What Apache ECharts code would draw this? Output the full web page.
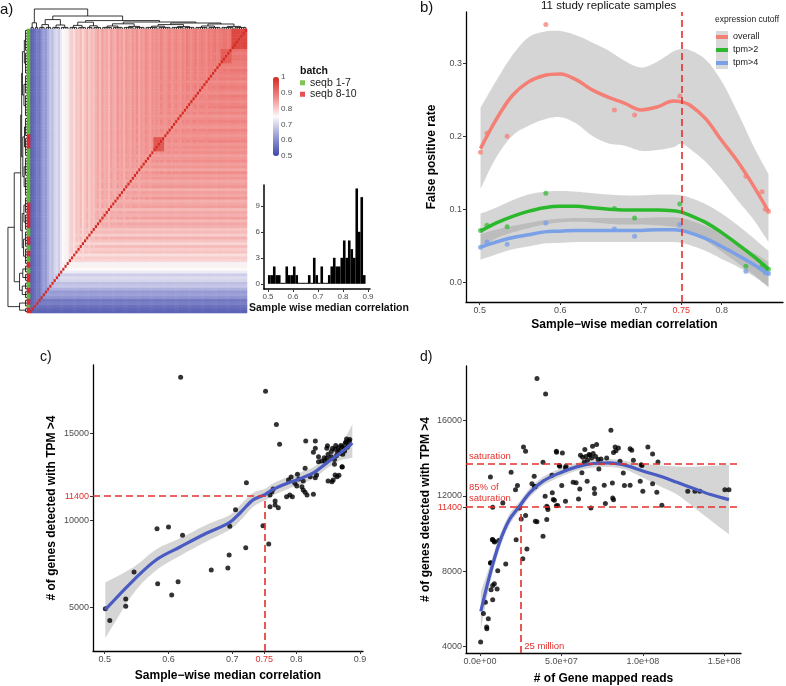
<!DOCTYPE html>
<html>
<head>
<meta charset="utf-8">
<title>Replicate sample correlation</title>
<script src="https://cdn.jsdelivr.net/npm/echarts@6/dist/echarts.min.js"></script>
<style>
html, body { margin: 0; padding: 0; background: #fff; }
#chart { width: 786px; height: 686px; }
</style>
</head>
<body>
<div id="chart"></div>
<script>
// ---------- a) sample correlation heatmap ----------
// per sample median correlation, in dendrogram order (left column = bottom row)
var sampleCorr = [
    0.54, 0.55, 0.56, 0.58, 0.57,
    0.61, 0.63, 0.62, 0.65,
    0.68, 0.67, 0.70, 0.71, 0.69,
    0.73, 0.75, 0.76, 0.74,
    0.79, 0.80, 0.78, 0.81, 0.80, 0.82, 0.79, 0.81, 0.83, 0.80, 0.82, 0.81, 0.83,
    0.84, 0.82, 0.85, 0.83, 0.84, 0.82, 0.85, 0.84, 0.83, 0.86, 0.84, 0.85, 0.83,
    0.86, 0.85, 0.84, 0.86, 0.85, 0.87, 0.84, 0.86, 0.85, 0.87, 0.86, 0.85, 0.87,
    0.86, 0.87, 0.86, 0.88, 0.87,
    0.86, 0.87, 0.88, 0.86, 0.87, 0.88, 0.87, 0.86, 0.88, 0.87, 0.89, 0.88, 0.87,
    0.88, 0.89, 0.87, 0.88, 0.89, 0.88, 0.87, 0.89, 0.88, 0.89, 0.90, 0.88, 0.89,
    0.89, 0.90, 0.90, 0.89, 0.90, 0.91, 0.90, 0.91, 0.92, 0.91, 0.92, 0.92
];
// tight blocks on the diagonal: [first, last, correlation]
var corrBlocks = [[57, 61, 0.94], [88, 92, 0.93], [93, 99, 0.96]];
// batch runs from the bottom row up: [batch, rows], 0 = seqb 1-7, 1 = seqb 8-10
var batchRuns = [[1, 2], [0, 1], [1, 2], [0, 2], [1, 2], [0, 2], [1, 3], [0, 2], [1, 2],
    [0, 2], [1, 2], [0, 2], [1, 3], [0, 3], [1, 9], [0, 19], [1, 5], [0, 37]];
// dendrograms: [height, left, right], a number is a group of that many leaves
var colTree = [10, [3.1, 2, 2],
    [6.5, [4.7, [2.2, 3, 3], [2.0, 4, 4]],
        [4.2, [3.4, [1.8, 4, 4], [1.6, 3, 4]],
            [3.5, [2.6, [1.5, 5, 5], [1.3, 5, 5]],
                [3.0, [2.2, [1.4, 6, 6], [1.2, 6, 5]], [2.5, [1.5, 6, 6], [1.3, 6, 6]]]]]]];
var rowTree = [10, [3.9, 2, 3],
    [6.7, [3.9, [2.5, 3, 3], [2.2, 3, 3]],
        [3.3, [2.5, [1.8, 6, 6], [1.6, 6, 6]],
            [2.8, [2.2, [1.5, 7, 7], [1.3, 7, 7]], [2.4, [1.6, 8, 7], [1.4, 8, 8]]]]]];
var corrTicks = [0.5, 0.6, 0.7, 0.8, 0.9, 1];

// histogram of sample wise median correlation
var histMids = [0.505, 0.515, 0.525, 0.535, 0.545, 0.555, 0.565, 0.575, 0.585, 0.595,
    0.605, 0.615, 0.625, 0.635, 0.645, 0.655, 0.665, 0.675, 0.685, 0.695,
    0.705, 0.715, 0.725, 0.735, 0.745, 0.755, 0.765, 0.775, 0.785, 0.795,
    0.805, 0.815, 0.825, 0.835, 0.845, 0.855, 0.865, 0.875, 0.885];
var histCounts = [1, 1, 2, 1, 1, 0, 0, 2, 1, 1,
    2, 1, 0, 0, 0, 0, 1, 0, 3, 1,
    0, 2, 0, 0, 1, 2, 3, 2, 2, 3,
    5, 3, 5, 4, 3, 11, 6, 10, 1];
var histXTicks = [0.5, 0.6, 0.7, 0.8, 0.9];
var histYTicks = [0, 3, 6, 9];

// ---------- b) false positive rate ----------
var bCorr = [0.501, 0.509, 0.534, 0.582, 0.667, 0.692, 0.748, 0.830, 0.850, 0.854, 0.858];
var bOverall = [0.178, 0.204, 0.200, 0.353, 0.236, 0.229, 0.255, 0.145, 0.124, 0.100, 0.097];
var bTpm2 = [0.071, 0.078, 0.076, 0.122, 0.101, 0.088, 0.107, 0.022, 0.022, 0.018, 0.018];
var bTpm4 = [0.048, 0.055, 0.052, 0.081, 0.073, 0.063, 0.079, 0.015, 0.018, 0.013, 0.012];
var bFitX = [0.501, 0.52, 0.54, 0.56, 0.58, 0.60, 0.62, 0.64, 0.66, 0.68,
    0.70, 0.72, 0.74, 0.75, 0.76, 0.78, 0.80, 0.82, 0.84, 0.858];
var bOverallFit = [0.183, 0.222, 0.255, 0.274, 0.283, 0.285, 0.277, 0.263, 0.253, 0.245,
    0.236, 0.240, 0.248, 0.247, 0.243, 0.224, 0.194, 0.165, 0.131, 0.097];
var bOverallHi = [0.239, 0.275, 0.310, 0.335, 0.343, 0.344, 0.338, 0.328, 0.317, 0.303,
    0.294, 0.302, 0.316, 0.319, 0.318, 0.305, 0.275, 0.232, 0.185, 0.148];
var bOverallLo = [0.128, 0.170, 0.200, 0.214, 0.223, 0.226, 0.217, 0.200, 0.190, 0.187,
    0.180, 0.181, 0.185, 0.190, 0.183, 0.165, 0.140, 0.112, 0.085, 0.055];
var bTpm2Fit = [0.070, 0.081, 0.090, 0.097, 0.102, 0.104, 0.104, 0.102, 0.100, 0.099,
    0.099, 0.099, 0.098, 0.096, 0.092, 0.082, 0.068, 0.052, 0.035, 0.018];
var bTpm2Hi = [0.094, 0.102, 0.112, 0.120, 0.124, 0.125, 0.124, 0.122, 0.120, 0.119,
    0.119, 0.120, 0.120, 0.119, 0.116, 0.107, 0.094, 0.078, 0.060, 0.043];
var bTpm2Lo = [0.046, 0.060, 0.068, 0.074, 0.079, 0.082, 0.083, 0.082, 0.080, 0.079,
    0.079, 0.078, 0.076, 0.073, 0.068, 0.057, 0.042, 0.026, 0.010, -0.007];
var bTpm4Fit = [0.048, 0.055, 0.061, 0.065, 0.069, 0.070, 0.071, 0.071, 0.071, 0.071,
    0.071, 0.072, 0.072, 0.071, 0.068, 0.060, 0.049, 0.037, 0.024, 0.011];
var bTpm4Hi = [0.066, 0.072, 0.077, 0.081, 0.085, 0.087, 0.088, 0.088, 0.088, 0.088,
    0.088, 0.089, 0.089, 0.088, 0.085, 0.077, 0.066, 0.053, 0.040, 0.028];
var bTpm4Lo = [0.031, 0.038, 0.045, 0.049, 0.053, 0.054, 0.055, 0.055, 0.055, 0.055,
    0.055, 0.055, 0.055, 0.054, 0.051, 0.043, 0.032, 0.021, 0.008, -0.006];
var bXTicks = [0.5, 0.6, 0.7, 0.75, 0.8];
var bYTicks = [0, 0.1, 0.2, 0.3];
var bCut = 0.75;

// ---------- c) genes detected vs median correlation ----------
var cCorr = [0.501, 0.508, 0.533, 0.533, 0.546, 0.582, 0.583, 0.600, 0.605, 0.615, 0.619, 0.622,
    0.667, 0.693, 0.695, 0.696, 0.705, 0.721, 0.722, 0.748, 0.752, 0.757, 0.769, 0.774,
    0.815, 0.830, 0.879, 0.883, 0.877, 0.882, 0.872, 0.866, 0.861, 0.857,
    0.849, 0.848, 0.830, 0.827, 0.876, 0.869, 0.863, 0.855, 0.848, 0.844,
    0.835, 0.835, 0.840, 0.860, 0.872, 0.814, 0.861, 0.864, 0.802, 0.832,
    0.830, 0.822, 0.792, 0.804, 0.788, 0.811, 0.850, 0.856, 0.858, 0.798,
    0.801, 0.809, 0.811, 0.814, 0.817, 0.827, 0.785, 0.790, 0.794, 0.764,
    0.762, 0.759, 0.767, 0.759, 0.767, 0.772,
    0.867, 0.872, 0.870, 0.875, 0.878, 0.868, 0.873, 0.865, 0.855, 0.850, 0.845, 0.860, 0.880, 0.884, 0.862];
var cGenes = [4940, 4270, 5500, 5080, 7050, 9530, 6380, 9630, 5730, 6490, 18210, 9150,
    7160, 7280, 8020, 9670, 10620, 8440, 12170, 9700, 17410, 8650, 15500, 14370,
    14558, 14558, 14673, 14558, 14425, 14329, 14234, 14176, 14080, 14138,
    14291, 14138, 14138, 13909, 13985, 13851, 13718, 13660, 13565, 13603,
    13660, 13374, 13412, 13221, 13087, 12991, 12609, 12514, 12647, 12609,
    12456, 12514, 12495, 12380, 12323, 12265, 12265, 12227, 12323, 12131,
    11979, 11940, 11749, 11615, 11463, 11501, 11367, 11463, 11367, 11807,
    11654, 11463, 11119, 10794, 10889, 10736,
    12590, 13070, 14300, 14150, 14500, 14000, 13800, 13900, 13950, 13800, 13400, 13500, 14200, 14650, 14300];
var cFitX = [0.501, 0.545, 0.581, 0.618, 0.660, 0.696, 0.712, 0.733, 0.751, 0.765,
    0.790, 0.809, 0.827, 0.848, 0.869, 0.888];
var cFitY = [4885, 6570, 7750, 8480, 9280, 9895, 10430, 11195, 11480, 11807,
    12190, 12440, 12725, 13300, 13870, 14445];
var cFitLo = [3260, 5820, 7150, 7980, 8800, 9475, 9980, 10795, 11150, 11460,
    11850, 12100, 12400, 12980, 13450, 13585];
var cFitHi = [6450, 7320, 8350, 8980, 9760, 10315, 10880, 11595, 11810, 12150,
    12540, 12790, 13060, 13630, 14300, 15500];
var cXTicks = [0.5, 0.6, 0.7, 0.75, 0.8, 0.9];
var cYTicks = [5000, 10000, 11400, 15000];
var cCutCorr = 0.75;
var cCutGenes = 11400;

// ---------- d) genes detected vs mapped reads ----------
var dReadsM = [0.4, 2.1, 3.3, 4.1, 4.2, 5.1, 6.8, 7.8, 7.8, 8.8,
    10.5, 10.9, 6.4, 7.8, 9.0, 11.5, 7.8, 6.4, 15.8, 14.0,
    19.1, 21.8, 23.0, 22.2, 24.3, 25.3, 26.3, 26.7, 28.0, 28.0,
    28.8, 31.9, 33.3, 34.0, 35.0, 33.5, 38.7, 35.0, 40.3, 38.7,
    40.0, 41.0, 41.5, 41.0, 44.2, 44.4, 45.7, 46.9, 46.9, 49.0,
    50.2, 50.6, 52.5, 52.5, 57.2, 60.5, 61.3, 61.7, 64.4, 65.8,
    67.5, 68.5, 69.1, 68.1, 70.2, 70.4, 71.6, 72.6, 73.0, 74.3,
    76.3, 77.0, 77.8, 80.4, 81.3, 81.5, 82.0, 82.0, 83.0, 83.5,
    85.0, 86.0, 88.0, 88.7, 92.2, 92.2, 93.2, 94.2, 98.4, 99.0,
    99.5, 100.0, 103.1, 106.0, 106.0, 108.6, 109.3, 111.7, 127.6, 132.0,
    135.0, 150.4, 152.9,
    6.6, 7.6, 8.6, 33.9, 41.7, 45.0, 47.7, 47.0, 48.7, 52.8,
    59.0, 62.6, 63.0, 65.0, 66.0, 67.0, 69.5, 71.0, 64.0];
var dGenes = [4230, 5740, 6340, 5030, 4940, 5470, 7010, 7240, 6480, 7320,
    7050, 8020, 8430, 9670, 9550, 9620, 11390, 13000, 8380, 11620,
    13255, 12330, 12550, 9670, 11360, 10770, 8650, 14600, 14370, 10950,
    9180, 12650, 13040, 10650, 10620, 12500, 13790, 18240, 17420, 9850,
    11980, 11450, 11380, 10740, 13100, 12160, 11770, 14370, 11480, 13570,
    12550, 14280, 13490, 11710, 12720, 11840, 12370, 14160, 14460, 12780,
    14160, 14020, 14640, 11360, 12390, 12120, 14730, 13930, 13430, 13960,
    12560, 11590, 14020, 15490, 12690, 11890, 11800, 14300, 14600, 14400,
    14550, 13840, 13220, 12550, 12560, 14500, 14420, 13890, 12780, 13650,
    13620, 12240, 14600, 14230, 12650, 12190, 13800, 11500, 12240, 12240,
    12240, 12320, 12320,
    8441, 9681, 9592, 12479, 11274, 11806, 11487, 14320, 13612, 13577,
    12692, 13223, 14050, 14100, 13900, 14200, 14250, 14100, 13800];
var dFitReadsM = [0.5, 5.8, 11.9, 18.1, 24.3, 30.5, 38.7, 49.0, 59.3, 69.5,
    79.8, 90.0, 100.4, 110.7, 121.0, 131.3, 141.6, 152.9];
var dFitY = [5860, 7720, 9500, 10740, 11450, 12160, 12780, 13220, 13540, 13720,
    13750, 13610, 13310, 13040, 12720, 12390, 12070, 11800];
var dFitLo = [4900, 7200, 9150, 10450, 11200, 11920, 12550, 13000, 13330, 13500,
    13530, 13370, 12950, 12500, 12070, 11400, 10700, 9950];
var dFitHi = [6900, 8250, 9850, 11030, 11700, 12400, 13010, 13440, 13750, 13940,
    13970, 13850, 13700, 13620, 13560, 13550, 13600, 13650];
var dXTicks = [0, 5e7, 1e8, 1.5e8];
var dYTicks = [4000, 8000, 11400, 12000, 16000];
var dSaturation = 13700;
var dCutGenes = 11400;
var dCutReads = 2.5e7;

// ---------- styling ----------
var FONT = 'Liberation Sans, Arial, sans-serif';
var RED = '#e3302b';
var GREEN_B = '#5cb82c';
var RED_B = '#e0262a';
var FIT = '#4a5cc2';
var BAND = 'rgba(150,150,150,0.4)';
var C_OVERALL = '#f47f75';
var C_TPM2 = '#2cb82c';
var C_TPM4 = '#7aa0e8';
var DASH = { color: RED, type: [7, 4], width: 1.6 };

function zip(xs, ys, scale) {
    var out = [];
    for (var i = 0; i < xs.length; i++) out.push([xs[i] * (scale || 1), ys[i]]);
    return out;
}

function sci(v) {
    if (v === 0) return '0.0e+00';
    var e = Math.floor(Math.log10(v) + 1e-9);
    return (v / Math.pow(10, e)).toFixed(1) + 'e+' + (e < 10 ? '0' : '') + e;
}

// heatmap cells
var N = sampleCorr.length;
var heatData = [];
for (var i = 0; i < N; i++) {
    for (var j = 0; j < N; j++) {
        var v = i === j ? 1 : Math.min(sampleCorr[i], sampleCorr[j]);
        corrBlocks.forEach(function (b) {
            if (i !== j && i >= b[0] && i <= b[1] && j >= b[0] && j <= b[1]) v = Math.max(v, b[2]);
        });
        heatData.push([i, j, v]);
    }
}
var batch = [];
batchRuns.forEach(function (run) {
    for (var k = 0; k < run[1]; k++) batch.push(run[0]);
});
var batchData = batch.map(function (b, r) { return [0, r, b]; });
var idx = [];
for (var k = 0; k < N; k++) idx.push(k);

// dendrogram segments [pos1, h1, pos2, h2]
function layoutTree(node, start, segs) {
    var leafH = 0.8;
    if (typeof node === 'number') {
        for (var k = 0; k < node; k++) segs.push([start + k + 0.5, 0, start + k + 0.5, leafH]);
        if (node > 1) segs.push([start + 0.5, leafH, start + node - 0.5, leafH]);
        return { pos: start + node / 2, h: leafH, end: start + node };
    }
    var a = layoutTree(node[1], start, segs);
    var b = layoutTree(node[2], a.end, segs);
    segs.push([a.pos, a.h, a.pos, node[0]]);
    segs.push([b.pos, b.h, b.pos, node[0]]);
    segs.push([a.pos, node[0], b.pos, node[0]]);
    return { pos: (a.pos + b.pos) / 2, h: node[0], end: b.end };
}
var colSegs = [], rowSegs = [];
layoutTree(colTree, 0, colSegs);
layoutTree(rowTree, 0, rowSegs);

function dendroSeries(segs, g, sideways) {
    return {
        type: 'custom', xAxisIndex: g, yAxisIndex: g, silent: true,
        data: segs,
        encode: sideways ? { x: [1, 3], y: [0, 2] } : { x: [0, 2], y: [1, 3] },
        renderItem: function (params, api) {
            var a = sideways ? [api.value(1), api.value(0)] : [api.value(0), api.value(1)];
            var b = sideways ? [api.value(3), api.value(2)] : [api.value(2), api.value(3)];
            var p = api.coord(a), q = api.coord(b);
            return {
                type: 'line',
                shape: { x1: p[0], y1: p[1], x2: q[0], y2: q[1] },
                style: { stroke: '#000', lineWidth: 0.8 }
            };
        }
    };
}

// smooth pixel path through projected points (Catmull-Rom), for drawing only
function curveThrough(pts, steps) {
    var out = [];
    for (var i = 0; i < pts.length - 1; i++) {
        var p0 = pts[Math.max(i - 1, 0)], p1 = pts[i], p2 = pts[i + 1], p3 = pts[Math.min(i + 2, pts.length - 1)];
        for (var s = 0; s < steps; s++) {
            var t = s / steps, t2 = t * t, t3 = t2 * t;
            var pt = [];
            for (var d = 0; d < 2; d++) {
                pt.push(0.5 * (2 * p1[d] + (p2[d] - p0[d]) * t +
                    (2 * p0[d] - 5 * p1[d] + 4 * p2[d] - p3[d]) * t2 +
                    (3 * p1[d] - p0[d] - 3 * p2[d] + p3[d]) * t3));
            }
            out.push(pt);
        }
    }
    out.push(pts[pts.length - 1]);
    return out;
}

function bandSeries(xs, lo, hi, g, scale) {
    scale = scale || 1;
    return {
        type: 'custom', xAxisIndex: g, yAxisIndex: g, silent: true, clip: true, z: 1,
        data: [[xs[0] * scale, lo[0]]],
        renderItem: function (params, api) {
            var up = [], down = [];
            for (var k = 0; k < xs.length; k++) {
                up.push(api.coord([xs[k] * scale, hi[k]]));
                down.push(api.coord([xs[k] * scale, lo[k]]));
            }
            var pts = curveThrough(up, 8).concat(curveThrough(down, 8).reverse());
            return { type: 'polygon', shape: { points: pts }, style: { fill: BAND } };
        }
    };
}

function hiddenAxis(g, min, max, extra) {
    var ax = { type: 'value', gridIndex: g, min: min, max: max, show: false };
    for (var key in extra) ax[key] = extra[key];
    return ax;
}

function valAxis(g, min, max, ticks, fmt, extra) {
    var ax = {
        type: 'value', gridIndex: g, min: min, max: max,
        axisLine: { show: true, onZero: false, lineStyle: { color: '#000', width: 1.3 } },
        axisTick: { show: true, length: 3, customValues: ticks, lineStyle: { color: '#333' } },
        axisLabel: {
            customValues: ticks, fontSize: 9, color: '#4d4d4d', margin: 4, formatter: fmt,
            rich: { r: { color: RED, fontSize: 9 } }
        },
        splitLine: { show: false },
        nameTextStyle: { fontWeight: 'bold', fontSize: 12, color: '#000' }
    };
    for (var key in extra) ax[key] = extra[key];
    return ax;
}

function redAt(cut, fmt) {
    return function (v) {
        var s = fmt ? fmt(v) : String(v);
        return v === cut ? '{r|' + s + '}' : s;
    };
}

function grid(l, t, w, h) {
    return { left: l, top: t, width: w, height: h, containLabel: false, outerBoundsMode: 'none' };
}

var chart = echarts.init(document.getElementById('chart'));
var option = {
    animation: false,
    textStyle: { fontFamily: FONT },
    title: [
        { text: 'a)', left: 0, top: 2, padding: 0, textStyle: { fontSize: 15, fontWeight: 'normal', color: '#111' } },
        { text: 'batch', left: 300, top: 66, padding: 0, textStyle: { fontSize: 10.5, fontWeight: 'bold', color: '#111' } },
        { text: 'Sample wise median correlation', left: 249, top: 303, padding: 0,
          textStyle: { fontSize: 10.5, fontWeight: 'bold', color: '#111' } },
        { text: 'b)', left: 420, top: 0, padding: 0, textStyle: { fontSize: 15, fontWeight: 'normal', color: '#111' } },
        { text: '11 study replicate samples', left: 541, top: 0, padding: 0,
          textStyle: { fontSize: 11.5, fontWeight: 'normal', color: '#111' } },
        { text: 'expression cutoff', left: 715, top: 15, padding: 0,
          textStyle: { fontSize: 8.5, fontWeight: 'normal', color: '#222' } },
        { text: 'c)', left: 40, top: 350, padding: 0, textStyle: { fontSize: 14, fontWeight: 'normal', color: '#111' } },
        { text: 'd)', left: 420, top: 350, padding: 0, textStyle: { fontSize: 14, fontWeight: 'normal', color: '#111' } }
    ],
    legend: [
        {
            data: ['seqb 1-7', 'seqb 8-10'], orient: 'vertical', left: 300, top: 77, padding: 0,
            icon: 'rect', itemWidth: 5, itemHeight: 5, itemGap: 0, selectedMode: false,
            textStyle: { fontSize: 10.5, color: '#222', lineHeight: 11.5 }
        },
        {
            data: ['overall', 'tpm>2', 'tpm>4'], orient: 'vertical', left: 716, top: 30.5, padding: 0,
            icon: 'rect', itemWidth: 12, itemHeight: 4, itemGap: 0, selectedMode: false,
            textStyle: { fontSize: 9, color: '#222', lineHeight: 13 }
        }
    ],
    graphic: [
        { type: 'rect', left: 716, top: 31, shape: { width: 12, height: 38 }, style: { fill: '#d9d9d9' }, z: 0, silent: true }
    ],
    grid: [
        grid(30, 29, 217, 284),   // 0 heatmap
        grid(27, 29, 3, 284),     // 1 batch bar
        grid(7, 29, 20, 284),     // 2 row dendrogram
        grid(30, 8, 217, 21),     // 3 column dendrogram
        grid(273, 77, 6, 79),     // 4 colour bar scale
        grid(264, 185, 106, 104), // 5 histogram
        grid(466, 12, 317, 290),  // 6 panel b
        grid(93, 365, 270, 286),  // 7 panel c
        grid(466, 366, 275, 287)  // 8 panel d
    ],
    xAxis: [
        { type: 'category', gridIndex: 0, data: idx, show: false },
        { type: 'category', gridIndex: 1, data: ['batch'], show: false },
        hiddenAxis(2, 0, 10.5, { inverse: true }),
        hiddenAxis(3, 0, N),
        hiddenAxis(4, 0, 1),
        valAxis(5, 0.484, 0.908, histXTicks, null, {
            axisLine: { show: true, onZero: false, lineStyle: { color: '#000', width: 1.5 } },
            axisLabel: { customValues: histXTicks, fontSize: 8, color: '#4d4d4d', margin: 4 }
        }),
        valAxis(6, 0.483, 0.876, bXTicks, redAt(bCut), {
            name: 'Sample\u2212wise median correlation', nameLocation: 'middle', nameGap: 17
        }),
        valAxis(7, 0.4817, 0.9047, cXTicks, redAt(cCutCorr), {
            name: 'Sample\u2212wise median correlation', nameLocation: 'middle', nameGap: 19
        }),
        valAxis(8, -8.6e6, 1.603e8, dXTicks, sci, {
            name: '# of Gene mapped reads', nameLocation: 'middle', nameGap: 20
        })
    ],
    yAxis: [
        { type: 'category', gridIndex: 0, data: idx, show: false },
        { type: 'category', gridIndex: 1, data: idx, show: false },
        hiddenAxis(2, 0, N),
        hiddenAxis(3, 0, 10.5),
        {
            type: 'value', gridIndex: 4, min: 0.5, max: 1, position: 'right',
            axisLine: { show: false }, splitLine: { show: false },
            axisTick: { show: true, inside: true, length: 2, customValues: corrTicks, lineStyle: { color: '#fff' } },
            axisLabel: { customValues: corrTicks, fontSize: 8, color: '#4d4d4d', margin: 2 }
        },
        valAxis(5, -0.6, 11.4, histYTicks, null, {
            axisLine: { show: true, onZero: false, lineStyle: { color: '#000', width: 1.5 } },
            axisLabel: { customValues: histYTicks, fontSize: 8, color: '#4d4d4d', margin: 4 }
        }),
        valAxis(6, -0.027, 0.37, bYTicks, function (v) { return v.toFixed(1); }, {
            name: 'False positive rate', nameLocation: 'middle', nameGap: 28
        }),
        valAxis(7, 2517, 18916, cYTicks, redAt(cCutGenes), {
            name: '# of genes detected with TPM >4', nameLocation: 'middle', nameGap: 35
        }),
        valAxis(8, 3644, 18906, dYTicks, redAt(dCutGenes), {
            name: '# of genes detected with TPM >4', nameLocation: 'middle', nameGap: 34
        })
    ],
    visualMap: [
        {
            type: 'continuous', seriesIndex: 0, min: 0.5, max: 1, dimension: 2,
            left: 273, top: 77, padding: 0, itemWidth: 6, itemHeight: 79,
            calculable: false, hoverLink: false,
            inRange: { color: ['#3f47a6', '#9a9dd6', '#fdfafa', '#ef8784', '#d42a22'] }
        },
        {
            type: 'piecewise', seriesIndex: 1, dimension: 2, show: false,
            pieces: [{ value: 0, color: GREEN_B }, { value: 1, color: RED_B }]
        }
    ],
    series: [
        { type: 'heatmap', xAxisIndex: 0, yAxisIndex: 0, data: heatData, progressive: 0, silent: true },
        { type: 'heatmap', xAxisIndex: 1, yAxisIndex: 1, data: batchData, progressive: 0, silent: true },
        { type: 'scatter', name: 'seqb 1-7', xAxisIndex: 1, yAxisIndex: 1, data: [], itemStyle: { color: GREEN_B } },
        { type: 'scatter', name: 'seqb 8-10', xAxisIndex: 1, yAxisIndex: 1, data: [], itemStyle: { color: RED_B } },
        dendroSeries(colSegs, 3, false),
        dendroSeries(rowSegs, 2, true),
        {
            type: 'bar', xAxisIndex: 5, yAxisIndex: 5, data: zip(histMids, histCounts),
            barWidth: 2.6, barMinHeight: 1, itemStyle: { color: '#000' }, silent: true
        },

        // b)
        bandSeries(bFitX, bOverallLo, bOverallHi, 6),
        bandSeries(bFitX, bTpm2Lo, bTpm2Hi, 6),
        bandSeries(bFitX, bTpm4Lo, bTpm4Hi, 6),
        {
            type: 'scatter', xAxisIndex: 6, yAxisIndex: 6, data: zip(bCorr, bOverall), symbolSize: 5, z: 2,
            itemStyle: { color: C_OVERALL, opacity: 0.75 }, silent: true,
            markLine: { silent: true, symbol: 'none', label: { show: false }, lineStyle: DASH, data: [{ xAxis: bCut }] }
        },
        { type: 'scatter', xAxisIndex: 6, yAxisIndex: 6, data: zip(bCorr, bTpm2), symbolSize: 5, z: 2,
          itemStyle: { color: C_TPM2, opacity: 0.7 }, silent: true },
        { type: 'scatter', xAxisIndex: 6, yAxisIndex: 6, data: zip(bCorr, bTpm4), symbolSize: 5, z: 2,
          itemStyle: { color: C_TPM4, opacity: 0.8 }, silent: true },
        { type: 'line', name: 'overall', xAxisIndex: 6, yAxisIndex: 6, data: zip(bFitX, bOverallFit), smooth: 0.35,
          showSymbol: false, z: 3, color: C_OVERALL, lineStyle: { width: 3.5, color: C_OVERALL }, silent: true },
        { type: 'line', name: 'tpm>2', xAxisIndex: 6, yAxisIndex: 6, data: zip(bFitX, bTpm2Fit), smooth: 0.35,
          showSymbol: false, z: 3, color: C_TPM2, lineStyle: { width: 3.5, color: C_TPM2 }, silent: true },
        { type: 'line', name: 'tpm>4', xAxisIndex: 6, yAxisIndex: 6, data: zip(bFitX, bTpm4Fit), smooth: 0.35,
          showSymbol: false, z: 3, color: C_TPM4, lineStyle: { width: 3.5, color: C_TPM4 }, silent: true },

        // c)
        { type: 'scatter', xAxisIndex: 7, yAxisIndex: 7, data: zip(cCorr, cGenes), symbolSize: 5, z: 2,
          itemStyle: { color: '#000' }, silent: true },
        bandSeries(cFitX, cFitLo, cFitHi, 7),
        {
            type: 'line', xAxisIndex: 7, yAxisIndex: 7, data: zip(cFitX, cFitY), smooth: 0.35, showSymbol: false,
            z: 3, lineStyle: { width: 3.2, color: FIT }, silent: true,
            markLine: {
                silent: true, symbol: 'none', label: { show: false }, lineStyle: DASH,
                data: [
                    [{ coord: [0.4817, cCutGenes] }, { coord: [cCutCorr, cCutGenes] }],
                    [{ coord: [cCutCorr, 2517] }, { coord: [cCutCorr, cCutGenes] }]
                ]
            }
        },

        // d)
        { type: 'scatter', xAxisIndex: 8, yAxisIndex: 8, data: zip(dReadsM, dGenes, 1e6), symbolSize: 5, z: 2,
          itemStyle: { color: '#000' }, silent: true },
        bandSeries(dFitReadsM, dFitLo, dFitHi, 8, 1e6),
        {
            type: 'line', xAxisIndex: 8, yAxisIndex: 8, data: zip(dFitReadsM, dFitY, 1e6), smooth: 0.35, showSymbol: false,
            z: 3, lineStyle: { width: 3.2, color: FIT }, silent: true,
            markLine: {
                silent: true, symbol: 'none', label: { show: false }, lineStyle: DASH,
                data: [
                    { yAxis: dSaturation, label: { show: true, position: 'insideStartTop', formatter: 'saturation',
                      color: RED, fontSize: 9.5, distance: 3 } },
                    { yAxis: dCutGenes, label: { show: true, position: 'insideStartTop', formatter: '85% of\nsaturation',
                      color: RED, fontSize: 9.5, lineHeight: 11, distance: 3 } },
                    [{ coord: [dCutReads, 3644] }, { coord: [dCutReads, dCutGenes] }]
                ]
            },
            markPoint: {
                silent: true,
                data: [{
                    coord: [dCutReads, 4000], symbol: 'circle', symbolSize: 1, itemStyle: { color: 'rgba(0,0,0,0)' },
                    label: { show: true, position: 'right', formatter: '25 million', color: RED, fontSize: 9.5, distance: 3 }
                }]
            }
        }
    ]
};
chart.setOption(option);
</script>
</body>
</html>
